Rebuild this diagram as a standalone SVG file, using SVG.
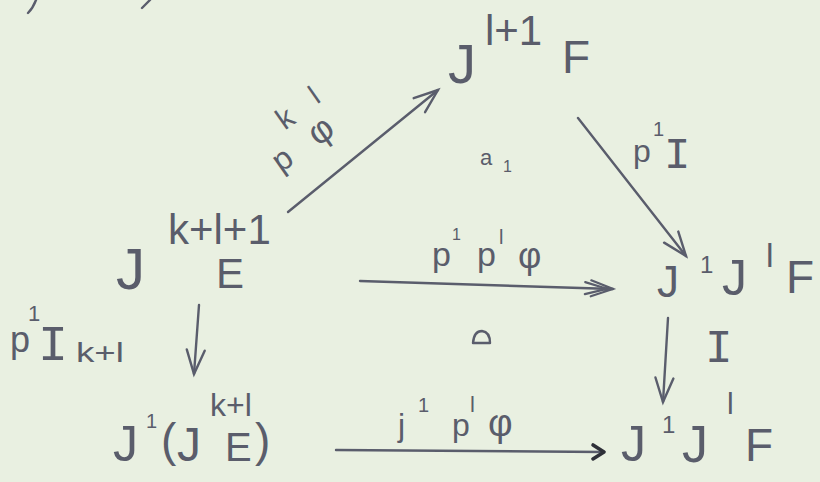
<svg xmlns="http://www.w3.org/2000/svg" width="820" height="482" viewBox="0 0 820 482">
<defs>
<style>
.t{font-family:"Liberation Sans","DejaVu Sans",sans-serif;fill:#5a5d6b;}
.s{font-family:"Liberation Mono","DejaVu Sans Mono",monospace;fill:#5a5d6b;}
.c{fill:none;stroke:#5a5d6c;stroke-width:2.4;stroke-linecap:round;stroke-linejoin:round;}
</style>
<marker id="v" viewBox="-28 -14 32 28" refX="0" refY="0" markerWidth="32" markerHeight="28" markerUnits="userSpaceOnUse" orient="auto">
<path d="M-24,-9 L0,0 L-24,9" fill="none" stroke="#5a5d6c" stroke-width="2.4" stroke-linecap="round"/>
</marker>
<marker id="vv" viewBox="-30 -14 34 28" refX="0" refY="0" markerWidth="34" markerHeight="28" markerUnits="userSpaceOnUse" orient="auto">
<path d="M-22,-8 L0,0 L-22,8 M-28,-6 L-6,0 L-28,6" fill="none" stroke="#5a5d6c" stroke-width="2.2" stroke-linecap="round"/>
</marker>
<marker id="vb" viewBox="-16 -12 20 24" refX="0" refY="0" markerWidth="20" markerHeight="24" markerUnits="userSpaceOnUse" orient="auto">
<path d="M-11,-7 L0,0 L-11,7" fill="none" stroke="#2e3038" stroke-width="3.6" stroke-linecap="round" stroke-linejoin="round"/>
</marker>
</defs>
<rect width="820" height="482" fill="#e9f0e1"/>
<path class="c" d="M28,13 Q33,8 36,0 M142,8 L150,0" stroke-width="2"/>

<g id="connectors">
<path class="c" d="M288,212 L438,90" marker-end="url(#v)"/>
<path class="c" d="M578,118 L686,256" marker-end="url(#v)"/>
<path class="c" d="M360,281 L613,289" marker-end="url(#vv)"/>
<path class="c" d="M199,305 L194,374" marker-end="url(#v)"/>
<path class="c" d="M668,318 L663,402" marker-end="url(#v)"/>
<path class="c" d="M336,450 L604,452" marker-end="url(#vb)"/>
</g>

<g id="n-top">
<text class="t" x="448" y="83" font-size="56">J</text>
<text class="t" x="485" y="45" font-size="42">l+1</text>
<text class="t" x="562" y="73" font-size="46">F</text>
</g>

<g id="n-left">
<text class="t" x="116" y="289" font-size="58">J</text>
<text class="t" x="168" y="244" font-size="42">k+l+1</text>
<text class="t" x="216" y="288" font-size="42">E</text>
</g>

<g id="n-right">
<text class="t" x="657" y="297" font-size="44">J</text>
<text class="t" x="700" y="273" font-size="24">1</text>
<text class="t" x="722" y="295" font-size="50">J</text>
<text class="t" x="766" y="267" font-size="34">l</text>
<text class="t" x="786" y="293" font-size="46">F</text>
</g>

<g id="n-bottom-left">
<text class="t" x="113" y="461" font-size="50">J</text>
<text class="t" x="146" y="428" font-size="20">1</text>
<text class="t" x="161" y="456" font-size="46">(</text>
<text class="t" x="177" y="461" font-size="48">J</text>
<text class="t" x="210" y="416" font-size="32">k+l</text>
<text class="t" x="225" y="461" font-size="40">E</text>
<text class="t" x="255" y="456" font-size="46">)</text>
</g>

<g id="n-bottom-right">
<text class="t" x="621" y="461" font-size="50">J</text>
<text class="t" x="662" y="433" font-size="24">1</text>
<text class="t" x="682" y="462" font-size="52">J</text>
<text class="t" x="727" y="414" font-size="30">l</text>
<text class="t" x="745" y="461" font-size="46">F</text>
</g>

<g id="labels">
<g transform="translate(282,159) rotate(-35)">
<text class="t" x="0" y="0" font-size="32" text-anchor="middle" dominant-baseline="central">p</text>
<text class="t" x="26" y="-32" font-size="30" text-anchor="middle" dominant-baseline="central">k</text>
<text class="t" x="48" y="-2" font-size="36" text-anchor="middle" dominant-baseline="central">φ</text>
<text class="t" x="63" y="-34" font-size="28" text-anchor="middle" dominant-baseline="central">l</text>
</g>
<text class="t" x="633" y="162" font-size="32">p</text>
<text class="t" x="653" y="136" font-size="20">1</text>
<text class="s" x="664" y="168" font-size="44">I</text>

<text class="t" x="480" y="165" font-size="22">a</text>
<text class="t" x="503" y="172" font-size="16">1</text>

<text class="t" x="432" y="266" font-size="34">p</text>
<text class="t" x="452" y="240" font-size="16">1</text>
<text class="t" x="477" y="266" font-size="34">p</text>
<text class="t" x="499" y="244" font-size="20">l</text>
<text class="t" x="518" y="268" font-size="36">φ</text>

<text class="t" x="10" y="352" font-size="36">p</text>
<text class="t" x="28" y="321" font-size="22">1</text>
<text class="s" x="38" y="360" font-size="50">I</text>
<text class="t" x="76" y="362" font-size="28" textLength="48" lengthAdjust="spacingAndGlyphs">k+l</text>

<path class="c" d="M473,343 Q474,331 482,331 Q490,332 490,343 Z" fill="#8a8d98" stroke-width="1.8"/>

<text class="s" x="705" y="362" font-size="46">I</text>

<text class="t" x="398" y="436" font-size="32">j</text>
<text class="t" x="418" y="412" font-size="20">1</text>
<text class="t" x="452" y="436" font-size="32">p</text>
<text class="t" x="470" y="412" font-size="22">l</text>
<text class="t" x="488" y="436" font-size="38">φ</text>
</g>
</svg>
